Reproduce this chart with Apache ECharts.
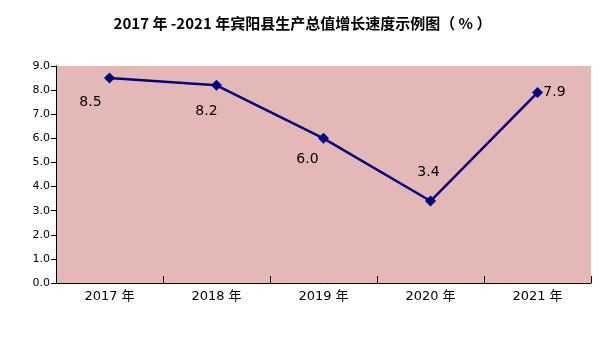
<!DOCTYPE html>
<html>
<head>
<meta charset="utf-8">
<script src="https://cdn.jsdelivr.net/npm/echarts@6/dist/echarts.min.js"></script>
<style>
  html, body { margin: 0; padding: 0; background: #ffffff; }
  #chart { width: 605px; height: 340px; }
</style>
</head>
<body>
<div id="chart"></div>
<script>
// 年度与增长速度（%）
const years = ['2017 年', '2018 年', '2019 年', '2020 年', '2021 年'];
const growth = [8.5, 8.2, 6.0, 3.4, 7.9];
const valueLabels = ['8.5', '8.2', '6.0', '3.4', '7.9'];
// 数值标签相对数据点的偏移
const labelOffsets = [[-19, 24], [-10, 26], [-16, 21], [-2, -29], [17, 0]];

const chart = echarts.init(document.getElementById('chart'));

const seriesData = growth.map((v, i) => ({
  value: v,
  label: {
    show: true,
    position: 'inside',
    offset: labelOffsets[i],
    formatter: () => valueLabels[i]
  }
}));

chart.setOption({
  animation: false,
  backgroundColor: '#ffffff',
  title: {
    text: '2017 年 -2021 年宾阳县生产总值增长速度示例图（ % ）',
    left: 'center',
    top: 11,
    textStyle: {
      fontFamily: 'Noto Sans CJK SC',
      fontSize: 15,
      fontWeight: 'bold',
      color: '#000000'
    }
  },
  grid: {
    left: 56,
    right: 14,
    top: 66,
    bottom: 57,
    show: true,
    backgroundColor: '#e5b8b8',
    borderWidth: 0
  },
  xAxis: {
    type: 'category',
    data: years,
    boundaryGap: true,
    axisLine: { lineStyle: { color: '#000000', width: 1 } },
    axisTick: { show: true, inside: true, length: 7, lineStyle: { color: '#000000' } },
    axisLabel: {
      color: '#000000',
      fontFamily: 'DejaVu Sans, Noto Sans CJK SC',
      fontSize: 13,
      margin: 7
    },
    splitLine: { show: false }
  },
  yAxis: {
    type: 'value',
    min: 0,
    max: 9,
    interval: 1,
    axisLine: { show: true, lineStyle: { color: '#000000', width: 1 } },
    axisTick: { show: true, inside: false, length: 5, lineStyle: { color: '#000000' } },
    axisLabel: {
      color: '#000000',
      fontFamily: 'DejaVu Sans',
      fontSize: 11,
      margin: 6,
      formatter: v => v.toFixed(1)
    },
    splitLine: { show: false }
  },
  series: [{
    type: 'line',
    data: seriesData,
    symbol: 'diamond',
    symbolSize: 11,
    lineStyle: { color: '#000080', width: 2.5 },
    itemStyle: { color: '#000080' },
    label: {
      color: '#000000',
      fontFamily: 'DejaVu Sans',
      fontSize: 14,
      align: 'center',
      verticalAlign: 'middle'
    }
  }]
});
</script>
</body>
</html>
